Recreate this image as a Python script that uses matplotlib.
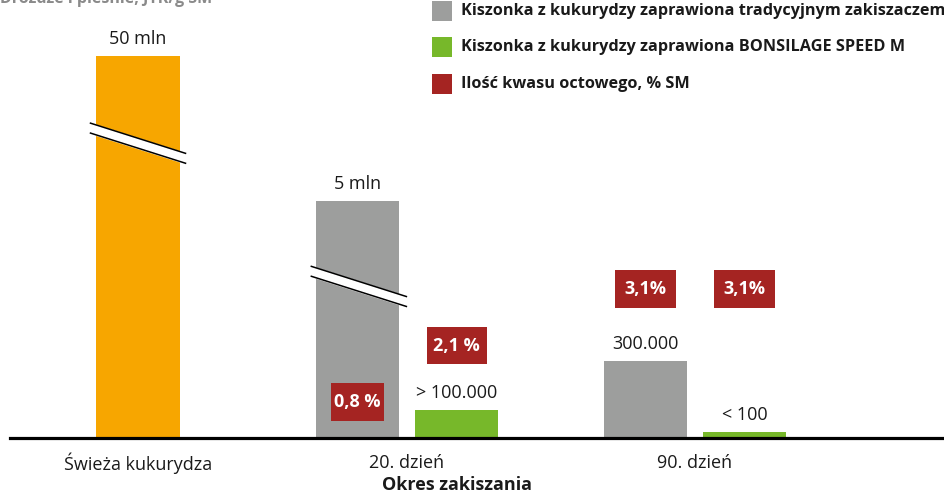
import numpy as np
import matplotlib.pyplot as plt
from matplotlib.patches import Rectangle

plt.rcParams['font.family'] = ['Open Sans', 'DejaVu Sans']

# Data (the value axis is broken, so heights are visual heights)
categories   = ['Świeża kukurydza', '20. dzień', '90. dzień']
fresh_height = 100.0
trad_height  = [62.0, 20.2]
bons_height  = [7.3, 1.6]
fresh_label  = '50 mln'
trad_labels  = ['5 mln', '300.000']
bons_labels  = ['> 100.000', '< 100']
acid_labels  = ['0,8 %', '2,1 %', '3,1%', '3,1%']
acid_level   = [9.4, 24.2, 39.0, 39.0]
legend_labels = ['Kiszonka z kukurydzy zaprawiona tradycyjnym zakiszaczem',
                 'Kiszonka z kukurydzy zaprawiona BONSILAGE SPEED M',
                 'Ilość kwasu octowego, % SM']

ORANGE = '#F7A600'
GRAY   = '#9D9E9D'
GREEN  = '#77B82A'
RED    = '#A52422'

group_pos = np.array([0.0, 0.966, 2.0])
bar_w     = 0.30
offset    = 0.178

fig = plt.figure(figsize=(9.44, 4.93), dpi=100)
ax = fig.add_axes([0, 0, 1, 1])
ax.set_xlim(-0.4955, 2.894)
ax.set_ylim(-14.4, 114.7)
ax.axis('off')

# bars
ax.bar(group_pos[0], fresh_height, width=bar_w, color=ORANGE, zorder=2)
trad_x = group_pos[1:] - offset
bons_x = group_pos[1:] + offset
ax.bar(trad_x, trad_height, width=bar_w, color=GRAY, zorder=2)
ax.bar(bons_x, bons_height, width=bar_w, color=GREEN, zorder=2)

# value labels
def put_label(x, h, txt):
    ax.annotate(txt, (x, h), xytext=(0, 6), textcoords='offset points',
                ha='center', va='bottom', fontsize=13, color='#1a1a1a')

put_label(group_pos[0], fresh_height, fresh_label)
for x, h, t in zip(trad_x, trad_height, trad_labels):
    put_label(x, h, t)
for x, h, t in zip(bons_x, bons_height, bons_labels):
    put_label(x, h, t)

# acetic acid boxes
acid_x = [trad_x[0], bons_x[0], trad_x[1], bons_x[1]]
box_w  = [0.187, 0.215, 0.219, 0.219]
box_h  = 9.9
for x, y, w, t in zip(acid_x, acid_level, box_w, acid_labels):
    ax.add_patch(Rectangle((x - w / 2, y - box_h / 2), w, box_h,
                           facecolor=RED, edgecolor='none', zorder=3))
    ax.text(x, y, t, ha='center', va='center', fontsize=13,
            fontweight='bold', color='white', zorder=4)

# axis break marks
def draw_break(xc, yc, half_w=0.1706, drop=7.9, gap=2.6):
    xs = np.array([xc - half_w, xc + half_w])
    top = np.array([yc + drop / 2 + gap / 2, yc - drop / 2 + gap / 2])
    bot = top - gap
    ax.fill_between(xs, bot, top, color='white', zorder=5)
    ax.plot(xs, top, color='black', lw=1.1, zorder=6)
    ax.plot(xs, bot, color='black', lw=1.1, zorder=6)

draw_break(group_pos[0], 77.2)
draw_break(trad_x[0] + 0.005, 39.7)

# baseline
ax.axhline(0, xmin=10 / 944, xmax=1, color='black', lw=2.3, zorder=7)

# category labels
for x, c in zip(group_pos, categories):
    ax.text(x, -6.5, c, ha='center', va='center', fontsize=13, color='#1a1a1a')
ax.text(group_pos[1] + 0.18, -12.3, 'Okres zakiszania', ha='center', va='center',
        fontsize=13, fontweight='bold', color='#1a1a1a')

# clipped axis title at the top
fig.text(0.0, 1 - 3 / 493, 'Drożdże i pleśnie, JTK/g SM', ha='left', va='baseline',
         fontsize=11.5, fontweight='bold', color='#8a8a8a')

# legend
leg_colors = [GRAY, GREEN, RED]
leg_y = [11, 47, 84]
for col, yy, lab in zip(leg_colors, leg_y, legend_labels):
    fig.patches.append(Rectangle((432 / 944, 1 - (yy + 10) / 493), 20 / 944, 20 / 493,
                                 transform=fig.transFigure, facecolor=col,
                                 edgecolor='none'))
    fig.text(461 / 944, 1 - yy / 493, lab, ha='left', va='center',
             fontsize=11.7, fontweight='bold', color='#1a1a1a')

fig.savefig('out.png', dpi=100)
